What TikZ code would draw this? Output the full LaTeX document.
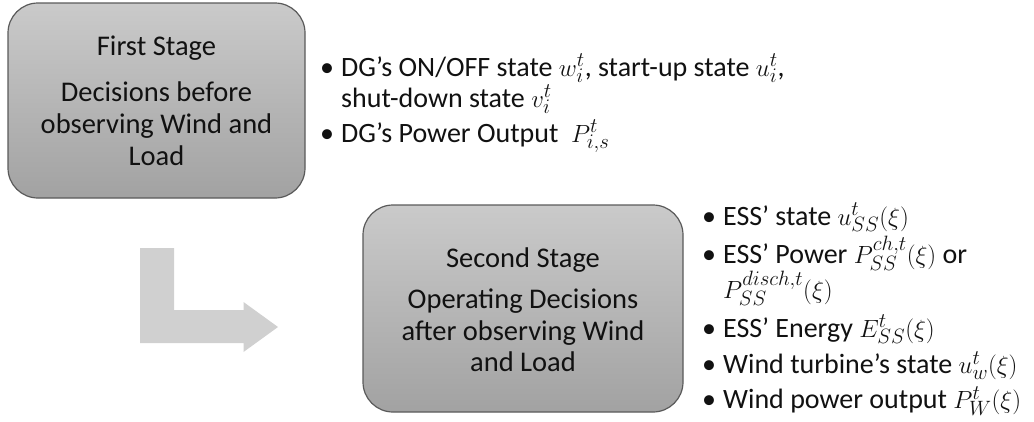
\documentclass[tikz,border=0pt]{standalone}
\usepackage{fontspec}
\setmainfont{Carlito}
\definecolor{boxtop}{HTML}{CACACA}
\definecolor{boxbot}{HTML}{A2A2A2}
\definecolor{boxline}{HTML}{5A5A5A}
\definecolor{arrowgray}{HTML}{D0D0D0}
\definecolor{txt}{HTML}{111111}
\begin{document}
\begin{tikzpicture}[x=1pt,y=-1pt,
  stagebox/.style={draw=boxline, line width=1.2pt, rounded corners=30pt,
    top color=boxtop, bottom color=boxbot, inner sep=0pt},
  boxtxt/.style={anchor=base, inner sep=0pt, text=txt, font=\fontsize{28.5}{32}\selectfont},
  itemtxt/.style={anchor=base west, inner sep=0pt, text=txt, font=\fontsize{28}{32}\selectfont},
  bul/.style={anchor=base, inner sep=0pt, text=txt, font=\fontsize{28}{32}\selectfont}]
\useasboundingbox (0,0) rectangle (1034,421);

% stage boxes
\node[stagebox, minimum width=297pt, minimum height=195pt] (s1) at (156.5,100.5) {};
\node[stagebox, minimum width=320pt, minimum height=207pt] (s2) at (523,308.5) {};

% box texts
\node[boxtxt] (s1a) at (156.5,55) {First Stage};
\node[boxtxt] (s1b) at (156.5,101.7) {Decisions before};
\node[boxtxt] (s1c) at (156.5,133.3) {observing Wind and};
\node[boxtxt] (s1d) at (156.5,165) {Load};

\node[boxtxt] (s2a) at (523,267) {Second Stage};
\node[boxtxt] (s2b) at (523,308.3) {Operating Decisions};
\node[boxtxt] (s2c) at (523,340) {after observing Wind};
\node[boxtxt] (s2d) at (523,371.7) {and Load};

% bent arrow
\fill[arrowgray] (140,248) -- (174,248) -- (174,310) -- (243.5,310) -- (243.5,302)
  -- (278,327) -- (243.5,352) -- (243.5,343) -- (140,343) -- cycle;

% first-stage list
\node[bul] (b1) at (327,76) {•};
\node[itemtxt] (l1a) at (341,76) {DG's ON/OFF state $w_i^t$, start-up state $u_i^t$,};
\node[itemtxt] (l1b) at (341,107) {shut-down state $v_i^t$};
\node[bul] (b2) at (327,142) {•};
\node[itemtxt] (l1c) at (341,142) {DG's Power Output\ \ $P_{i,s}^t$};

% second-stage list
\node[bul] (c1) at (709,225) {•};
\node[itemtxt] (m1) at (723,225) {ESS' state $u_{SS}^t(\xi)$};
\node[bul] (c2) at (709,263.5) {•};
\node[itemtxt] (m2) at (723,263.5) {ESS' Power $P_{SS}^{ch,t}(\xi)$ or};
\node[itemtxt] (m2b) at (723,298) {$P_{SS}^{disch,t}(\xi)$};
\node[bul] (c3) at (709,337) {•};
\node[itemtxt] (m3) at (723,337) {ESS' Energy $E_{SS}^t(\xi)$};
\node[bul] (c4) at (709,373.5) {•};
\node[itemtxt] (m4) at (723,373.5) {Wind turbine's state $u_w^t(\xi)$};
\node[bul] (c5) at (709,408.5) {•};
\node[itemtxt] (m5) at (723,408.5) {Wind power output $P_W^t(\xi)$};
\end{tikzpicture}
\end{document}
